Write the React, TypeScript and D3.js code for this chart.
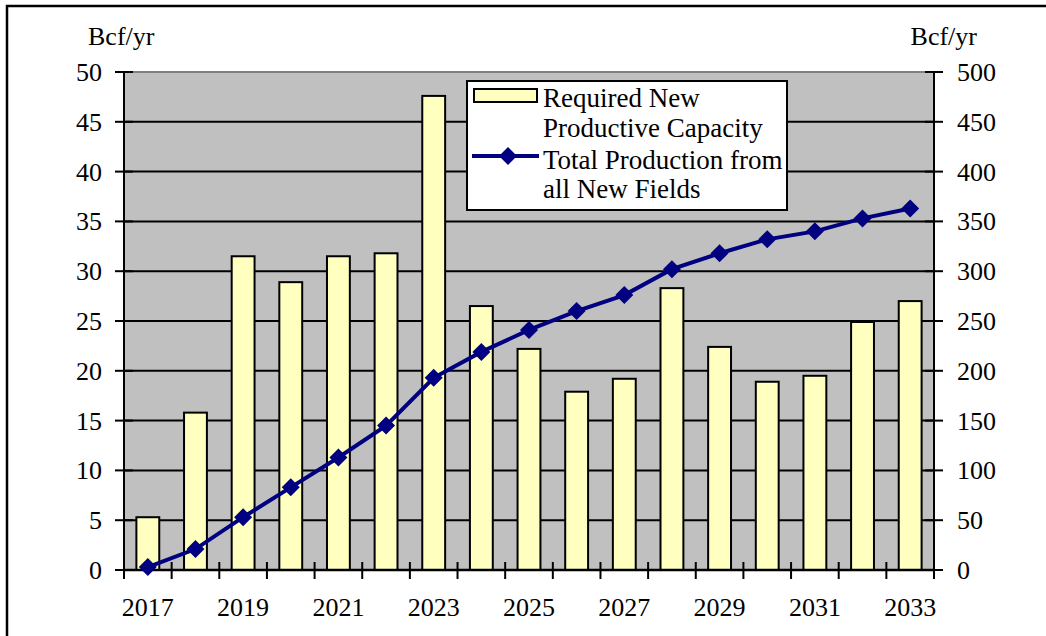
import React from "react";
import * as d3 from "d3";

const years = [2017, 2018, 2019, 2020, 2021, 2022, 2023, 2024, 2025, 2026, 2027, 2028, 2029, 2030, 2031, 2032, 2033];
const capacity = [5.3, 15.8, 31.5, 28.9, 31.5, 31.8, 47.6, 26.5, 22.2, 17.9, 19.2, 28.3, 22.4, 18.9, 19.5, 24.9, 27.0];
const production = [3, 21, 53, 83, 113, 145, 193, 219, 241, 260, 276, 302, 318, 332, 340, 353, 363];
const leftTicks = [0, 5, 10, 15, 20, 25, 30, 35, 40, 45, 50];
const rightTicks = [0, 50, 100, 150, 200, 250, 300, 350, 400, 450, 500];
const yearLabels = [2017, 2019, 2021, 2023, 2025, 2027, 2029, 2031, 2033];

const L = 124, R = 934, T = 72, B = 570;
const font = "'Liberation Serif', 'Times New Roman', serif";

export default function App() {
  const x = d3.scaleBand<number>().domain(years).range([L, R]).paddingInner(0.52).paddingOuter(0.26);
  const xb = d3.scaleLinear().domain([0, years.length]).range([L, R]);
  const yL = d3.scaleLinear().domain([0, 50]).range([B, T]);
  const yR = d3.scaleLinear().domain([0, 500]).range([B, T]);
  const cx = (yr: number) => (x(yr) as number) + x.bandwidth() / 2;
  const line = d3.line<number>().x((_, i) => cx(years[i])).y((d) => yR(d));
  const diamond = (px: number, py: number, r: number) =>
    `M${px},${py - r}L${px + r},${py}L${px},${py + r}L${px - r},${py}Z`;

  return (
    <svg width={1046} height={636} style={{ position: "absolute", left: 0, top: 0, background: "#fff" }} fontFamily={font}>
      <rect x={7} y={6} width={1100} height={700} fill="#fff" stroke="#000" strokeWidth={2.5} />
      <rect x={L} y={T} width={R - L} height={B - T} fill="#c0c0c0" />
      {leftTicks.filter((t) => t > 0 && t < 50).map((t) => (
        <line key={t} x1={L} x2={R} y1={yL(t)} y2={yL(t)} stroke="#000" strokeWidth={2} />
      ))}
      <line x1={L} x2={R} y1={T} y2={T} stroke="#808080" strokeWidth={2} />
      {capacity.map((v, i) => (
        <rect key={i} x={x(years[i])} y={yL(v)} width={x.bandwidth()} height={B - yL(v)} fill="#ffffc0" stroke="#000" strokeWidth={2} />
      ))}
      {/* axes */}
      <line x1={L} x2={L} y1={T} y2={B} stroke="#000" strokeWidth={2} />
      <line x1={R} x2={R} y1={T} y2={B} stroke="#000" strokeWidth={2} />
      <line x1={L} x2={R} y1={B} y2={B} stroke="#000" strokeWidth={2.5} />
      {leftTicks.map((t) => (
        <g key={"l" + t}>
          <line x1={L - 9} x2={L + 9} y1={yL(t)} y2={yL(t)} stroke="#000" strokeWidth={2} />
          <text x={102} y={yL(t) + 9} textAnchor="end" fontSize={26}>{t}</text>
        </g>
      ))}
      {rightTicks.map((t) => (
        <g key={"r" + t}>
          <line x1={R - 9} x2={R + 9} y1={yR(t)} y2={yR(t)} stroke="#000" strokeWidth={2} />
          <text x={957} y={yR(t) + 9} textAnchor="start" fontSize={26}>{t}</text>
        </g>
      ))}
      {d3.range(years.length + 1).map((i) => (
        <line key={"xt" + i} x1={xb(i)} x2={xb(i)} y1={B - 8} y2={B + 9} stroke="#000" strokeWidth={2} />
      ))}
      {yearLabels.map((yr) => (
        <text key={yr} x={cx(yr)} y={616} textAnchor="middle" fontSize={26}>{yr}</text>
      ))}
      <text x={88} y={45} fontSize={26}>Bcf/yr</text>
      <text x={977} y={45} fontSize={26} textAnchor="end">Bcf/yr</text>
      {/* line series */}
      <path d={line(production) || ""} fill="none" stroke="#000080" strokeWidth={4} />
      {production.map((v, i) => (
        <path key={"m" + i} d={diamond(cx(years[i]), yR(v), 9)} fill="#000080" />
      ))}
      {/* legend */}
      <rect x={467} y={81} width={320} height={129} fill="#fff" stroke="#000" strokeWidth={2} />
      <rect x={474} y={89} width={63} height={13} fill="#ffffc0" stroke="#000" strokeWidth={2} />
      <line x1={472} x2={539} y1={156} y2={156} stroke="#000080" strokeWidth={4} />
      <path d={diamond(508, 156, 9)} fill="#000080" />
      <text x={543} y={107} fontSize={27}>Required New</text>
      <text x={543} y={137} fontSize={27}>Productive Capacity</text>
      <text x={543} y={169} fontSize={27}>Total Production from</text>
      <text x={543} y={198} fontSize={27}>all New Fields</text>
    </svg>
  );
}
